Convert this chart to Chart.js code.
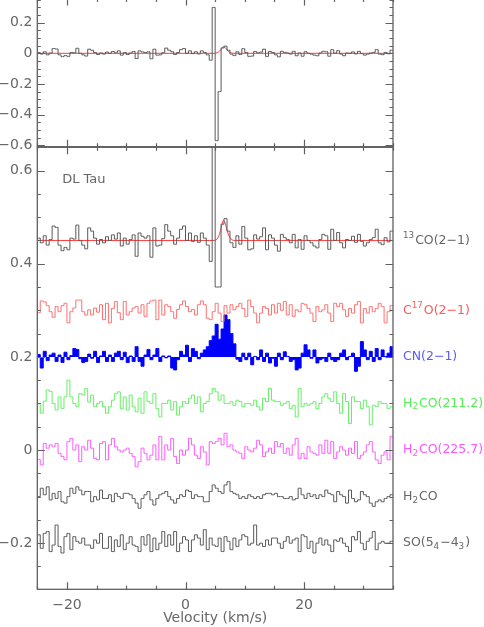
<!DOCTYPE html>
<html>
<head>
<meta charset="utf-8">
<script src="https://cdn.jsdelivr.net/npm/chart.js@4.4.1/dist/chart.umd.min.js"></script>
<style>
  html, body { margin: 0; padding: 0; background: #fff; }
  canvas { position: absolute; left: 0; }
  #top { top: -2px; }
  #bottom { top: 140px; }
</style>
</head>
<body>
<canvas id="top" width="484" height="158"></canvas>
<canvas id="bottom" width="484" height="487"></canvas>
<script>
// velocity grid (km/s)
const vMin = -25, vMax = 35, dv = 0.5;
const velTicks = [-20, 0, 20];
const topTicks = [-0.6, -0.4, -0.2, 0, 0.2];
const bottomTicks = [-0.2, 0, 0.2, 0.4, 0.6];
const topRange = [-0.610, 0.358];
const bottomRange = [-0.299, 0.65];

// spectra, one value per 0.5 km/s channel
const co13 = [
  .005,-.005,.010,-.010,.002,.031,.028,-.010,-.022,-.015,
  -.020,.005,.003,.033,.000,-.010,-.018,.027,.020,.005,
  -.008,.002,-.005,.008,.000,.012,.003,.016,-.012,.005,
  -.008,.002,.012,-.034,.016,.009,.005,.010,-.036,.027,
  -.012,-.010,.004,.034,.020,.010,-.008,.005,.024,.031,
  .000,.016,-.002,.010,-.004,.016,.005,-.010,-.045,.300,
  -.570,-.250,.035,.047,.020,-.005,-.015,.010,-.008,.030,
  .005,-.020,-.018,.012,.003,.008,.027,-.020,.012,.005,
  -.010,-.023,.013,.006,.002,-.005,.013,-.016,.002,-.019,
  .010,.000,-.005,-.012,-.016,.002,.013,.010,-.019,.024,
  .000,.017,-.005,-.016,.002,.000,.009,-.004,.013,-.002,
  -.012,-.005,.002,.006,.024,-.005,-.009,.006,-.003,.020
];
const c17o = [
  -.005,.020,.018,.010,-.003,-.015,.008,-.003,.010,.015,
  -.027,-.003,.005,.022,.022,-.003,-.010,.001,-.010,.005,
  -.004,.012,-.020,.015,-.027,.004,.019,-.005,-.020,.019,
  -.010,-.003,.005,.008,-.006,.012,-.013,.015,.020,.022,
  -.020,.022,-.010,.012,.008,-.003,-.017,.002,.012,.020,
  .008,-.003,.002,-.010,.012,.020,.012,-.017,-.020,-.003,
  .015,-.006,-.024,.010,-.006,.012,.001,.008,.015,.004,
  -.013,.022,.008,-.006,-.027,-.006,.008,.004,-.010,.012,
  -.006,.015,.000,.019,-.010,.012,-.013,.001,-.003,.015,
  .012,.004,-.006,-.024,.008,-.003,.001,.012,-.006,-.024,
  .015,.008,.015,.001,-.013,.004,-.006,.012,.019,-.027,
  .004,-.006,.008,-.003,.004,.015,.008,-.027,-.003,.010
];
const cn = [
  .005,-.024,.012,-.008,.004,.008,-.010,.004,-.012,.010,
  -.006,.003,.018,.016,-.004,-.012,-.010,.006,-.003,.012,
  -.012,.002,.012,-.010,.004,-.010,.008,.012,-.006,.010,
  -.012,.002,-.010,.022,-.010,-.020,.004,.016,-.006,.004,
  .018,-.010,.002,-.002,.002,-.024,-.028,-.006,.012,.004,
  .025,-.010,.018,.012,-.004,.008,.015,.022,.035,.045,
  .070,.038,.060,.090,.080,.050,.028,-.005,-.010,.008,
  -.006,.008,-.017,.001,-.006,.015,-.010,.008,-.013,-.003,
  -.020,.008,-.006,.011,.001,-.010,-.006,-.028,-.024,.008,
  .026,.015,-.003,.015,-.013,-.006,-.003,-.010,.008,-.006,
  -.010,-.006,.008,.015,-.006,.001,.008,-.031,-.020,.033,
  .015,-.006,.012,-.010,.018,-.006,.015,.001,.008,.022
];
const h2co211 = [
  .000,-.021,.005,.029,.026,.000,-.014,.014,-.011,.014,
  .050,.014,.000,-.007,.021,.018,.032,.003,.018,-.007,
  .000,.004,-.007,-.021,-.007,.007,.021,.025,-.011,.014,
  -.014,.018,-.007,-.018,.011,-.021,.025,.004,.000,.021,
  -.011,-.029,.000,.000,.007,-.014,.004,-.025,-.007,.004,
  .000,.011,.018,.000,.014,-.018,.000,.004,.021,.032,
  .025,.007,.018,.000,.000,.004,-.004,.007,.004,-.007,
  .000,.000,-.004,.007,-.007,-.014,.011,.004,.032,.007,
  .004,.004,-.004,.000,.004,-.011,-.004,-.029,.032,-.007,
  .000,-.004,.000,.004,-.011,.000,.014,.021,.011,.004,
  .025,.000,-.021,.021,.004,-.043,.014,.004,.004,-.011,
  .007,-.007,-.046,-.004,-.007,.004,.000,.000,-.011,-.007
];
const h2co225 = [
  -.020,-.032,.014,.004,.011,.007,.014,-.007,-.014,-.021,
  .018,.025,.000,.011,-.025,.007,.000,.021,.004,-.018,
  -.021,.014,.018,-.021,.011,.025,.007,.000,-.004,.000,
  .004,-.007,-.014,-.036,-.025,.004,-.007,-.021,-.011,.011,
  -.021,.029,-.021,.011,.000,.025,-.014,-.029,.000,-.011,
  .000,.025,.011,-.011,-.018,.007,-.004,-.032,.018,.014,
  .018,.025,.011,.036,.007,.011,.000,-.004,-.007,-.018,
  .007,.000,-.004,.004,.021,.011,-.014,-.004,.004,-.007,
  .018,.007,.014,-.007,.004,-.011,.011,.025,-.018,-.007,
  -.018,.007,-.004,-.007,-.011,.011,-.007,.021,-.007,.018,
  -.018,-.004,.007,.000,-.011,.004,-.007,.018,-.018,-.011,
  -.004,.011,.018,-.004,-.021,-.029,-.011,-.004,-.021,.029
];
const h2co = [
  .000,.018,.004,.021,-.007,.007,-.004,.011,-.011,-.014,
  .000,.018,.007,.021,.014,.004,.011,.011,-.011,.000,
  -.007,.014,-.004,-.004,.004,-.011,.007,.000,-.004,.007,
  .007,.004,-.004,-.014,-.025,-.004,.004,.011,-.007,-.018,
  -.004,.004,.007,.011,.000,-.007,-.014,-.004,.004,.000,
  .014,.011,-.004,.004,.000,.000,-.011,-.011,.011,.025,
  .018,.011,.007,.025,.032,.011,.007,.004,-.004,.000,
  -.004,.004,.000,-.004,.000,-.004,.004,.007,.007,.004,
  .007,.000,.000,-.004,-.004,.000,-.007,-.004,.018,.004,
  -.004,.007,.000,.004,-.004,.004,.000,.014,.007,.004,
  -.011,.011,.004,.000,-.014,.014,-.004,-.011,-.007,.011,
  .004,.000,-.014,-.021,-.011,-.007,-.011,-.004,.000,.004
];
const so = [
  .018,-.011,.021,.025,-.018,-.004,.039,-.007,-.021,.014,
  .021,-.014,.014,.004,.000,.011,-.004,-.004,-.011,.007,
  .000,.021,-.011,-.011,.014,-.018,.007,-.007,.018,-.014,
  .000,.014,-.004,-.007,-.018,.014,-.004,.018,-.018,.011,
  -.014,.000,.025,-.007,.018,-.004,.025,-.018,.000,.014,
  .007,-.018,.007,.018,.011,-.004,.029,-.014,.011,-.004,
  -.007,.011,-.018,.014,.004,-.014,.011,-.007,.007,.018,
  .014,-.004,.000,.039,-.004,.000,-.007,.007,-.004,.011,
  .011,.000,-.011,.004,.014,.000,.007,.011,-.018,.018,
  .014,-.011,.004,-.021,.000,.011,-.004,.007,-.004,-.018,
  .007,.004,.011,.000,-.007,-.018,.014,.007,.025,.000,
  -.014,.004,.011,.025,-.014,.000,.004,.000,.000,.004
];

// gaussian fit to the 13CO line
const fitV = [-25, 4.9, 5.3, 5.6, 5.9, 6.15, 6.4, 6.65, 6.9, 7.2, 7.5, 7.9, 8.4, 35];
const fitT = [0, 0, .003, .009, .021, .034, .043, .039, .027, .014, .006, .001, 0, 0];

const lineNames = ['^{13}CO(2−1)', 'C^{17}O(2−1)', 'CN(2−1)', 'H_{2}CO(211.2)', 'H_{2}CO(225.7)', 'H_{2}CO', 'SO(5_{4}−4_{3})'];
const lineData = [co13, c17o, cn, h2co211, h2co225, h2co, so];
const lineOffsets = [0.45, 0.30, 0.20, 0.10, 0.00, -0.10, -0.20];
const lineColors = ['#5a5a5a', '#ff7070', '#0000ff', '#66f066', '#ff5cff', '#5a5a5a', '#5a5a5a'];
const labelColors = ['#666666', '#ff5a5a', '#5a5aff', '#55ee55', '#ff55ff', '#666666', '#666666'];
const co13Floor = -0.1;   // 13CO clipped at -0.1 in the lower panel
const sourceName = 'DL Tau';

const axisColor = '#606060';
const textColor = '#666666';
const fontFamily = '"DejaVu Sans", sans-serif';

function channelPoints(spec, offset, floor = -Infinity) {
  const val = t => offset + Math.max(t, floor);
  const pts = [{ x: vMin, y: val(spec[0]) }];
  spec.forEach((t, i) => pts.push({ x: vMin + dv * (i + 0.5), y: val(t) }));
  pts.push({ x: vMax, y: val(spec[spec.length - 1]) });
  return pts;
}

function fitPoints(offset) {
  return fitV.map((v, i) => ({ x: v, y: offset + fitT[i] }));
}

function fmt(v) {
  if (Math.abs(v) < 1e-9) return '0';
  return String(Math.round(v * 10) / 10).replace('-', '−');
}

// inward ticks and box on every side
const framePlugin = {
  id: 'frame',
  afterDraw(chart) {
    const { ctx, chartArea: a, scales: { x, y } } = chart;
    ctx.save();
    ctx.strokeStyle = axisColor;
    ctx.lineWidth = 1.3;
    ctx.strokeRect(a.left, a.top, a.right - a.left, a.bottom - a.top);
    ctx.lineWidth = 1.2;
    ctx.beginPath();
    for (let v = vMin; v <= vMax; v += 5) {
      const px = Math.round(x.getPixelForValue(v)) + 0.5;
      const len = velTicks.includes(v) ? 7 : 3.5;
      ctx.moveTo(px, a.bottom); ctx.lineTo(px, a.bottom - len);
      ctx.moveTo(px, a.top); ctx.lineTo(px, a.top + len);
    }
    for (let k = Math.ceil(y.min / 0.05 - 1e-6); k * 0.05 <= y.max + 1e-9; k++) {
      const py = Math.round(y.getPixelForValue(k * 0.05)) + 0.5;
      const len = k % 4 === 0 ? 7.5 : 3.5;
      ctx.moveTo(a.left, py); ctx.lineTo(a.left + len, py);
      ctx.moveTo(a.right, py); ctx.lineTo(a.right - len, py);
    }
    ctx.stroke();
    ctx.restore();
  }
};

// labels with sub/superscripts
function drawRich(ctx, text, x, y, size) {
  const parts = text.split(/(\^\{[^}]*\}|_\{[^}]*\})/).filter(s => s.length);
  parts.forEach(p => {
    let dy = 0, s = size, t = p;
    if (p.startsWith('^{')) { t = p.slice(2, -1); s = size * 0.7; dy = -size * 0.38; }
    else if (p.startsWith('_{')) { t = p.slice(2, -1); s = size * 0.7; dy = size * 0.3; }
    ctx.font = s + 'px ' + fontFamily;
    ctx.fillText(t, x, y + dy);
    x += ctx.measureText(t).width + (s !== size ? 1 : 0);
  });
}

const labelPlugin = {
  id: 'lineLabels',
  afterDraw(chart) {
    const { ctx, chartArea: a, scales: { x, y } } = chart;
    ctx.save();
    ctx.textBaseline = 'middle';
    ctx.textAlign = 'left';
    lineNames.forEach((name, i) => {
      ctx.fillStyle = labelColors[i];
      drawRich(ctx, name, a.right + 10, y.getPixelForValue(lineOffsets[i]), 12.5);
    });
    ctx.fillStyle = textColor;
    ctx.font = '13px ' + fontFamily;
    ctx.fillText(sourceName, x.getPixelForValue(-20.8), y.getPixelForValue(0.58));
    ctx.restore();
  }
};

const tickFont = { family: fontFamily, size: 14 };

function yScale(range, ticks) {
  return {
    type: 'linear', min: range[0], max: range[1],
    grid: { display: false, drawTicks: false },
    border: { display: false },
    afterBuildTicks: s => { s.ticks = ticks.map(value => ({ value })); },
    afterFit: s => { s.width = 37.3; s.paddingTop = 0; s.paddingBottom = 0; },
    ticks: { color: textColor, font: tickFont, padding: 5, callback: fmt }
  };
}

const common = {
  responsive: false,
  devicePixelRatio: 1,
  animation: false,
  events: [],
  plugins: { legend: { display: false }, tooltip: { enabled: false } },
  elements: { point: { radius: 0 }, line: { borderWidth: 1 } }
};

new Chart(document.getElementById('top'), {
  type: 'line',
  data: {
    datasets: [
      { data: channelPoints(co13, 0), borderColor: lineColors[0], stepped: 'middle', fill: false },
      { data: fitPoints(0), borderColor: '#ff3a3a', cubicInterpolationMode: 'monotone', fill: false }
    ]
  },
  options: {
    ...common,
    layout: { padding: { top: 0.5, right: 91, bottom: 9.3, left: 0 } },
    scales: {
      x: { type: 'linear', min: vMin, max: vMax, display: false },
      y: yScale(topRange, topTicks)
    }
  },
  plugins: [framePlugin]
});

const bottomSets = lineData.map((spec, i) => ({
  data: channelPoints(spec, lineOffsets[i], i === 0 ? co13Floor : -Infinity),
  borderColor: lineColors[i],
  backgroundColor: lineColors[i],
  stepped: 'middle',
  fill: i === 2 ? { value: lineOffsets[i] } : false
}));
bottomSets.splice(1, 0, {
  data: fitPoints(lineOffsets[0]), borderColor: '#ff3a3a',
  cubicInterpolationMode: 'monotone', fill: false
});

new Chart(document.getElementById('bottom'), {
  type: 'line',
  data: { datasets: bottomSets },
  options: {
    ...common,
    layout: { padding: { top: 7.3, right: 91, bottom: 0, left: 0 } },
    scales: {
      x: {
        type: 'linear', min: vMin, max: vMax,
        grid: { display: false, drawTicks: false },
        border: { display: false },
        afterBuildTicks: s => { s.ticks = velTicks.map(value => ({ value })); },
        afterFit: s => { s.height = 37.7; s.paddingLeft = 0; s.paddingRight = 0; },
        ticks: { color: textColor, font: tickFont, padding: 8, maxRotation: 0, callback: fmt },
        title: { display: true, text: 'Velocity (km/s)', color: textColor, font: tickFont, padding: { top: 0, bottom: 0 } }
      },
      y: yScale(bottomRange, bottomTicks)
    }
  },
  plugins: [framePlugin, labelPlugin]
});
</script>
</body>
</html>
